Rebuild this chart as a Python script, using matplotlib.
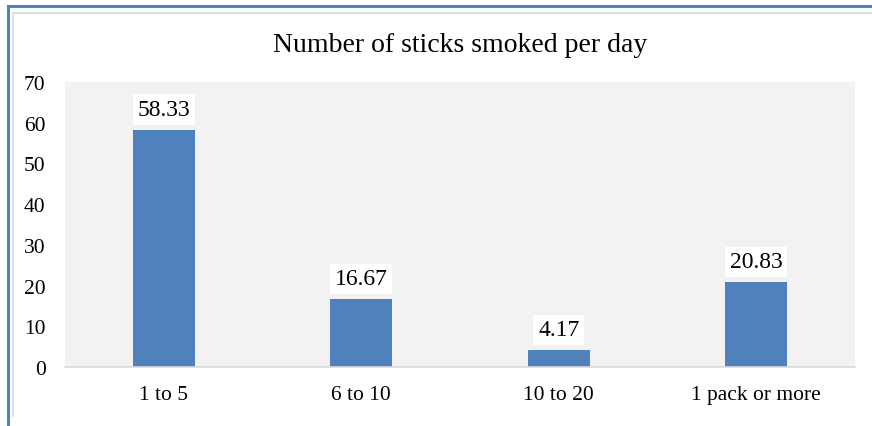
import matplotlib.pyplot as plt
from matplotlib.lines import Line2D

categories = ["1 to 5", "6 to 10", "10 to 20", "1 pack or more"]
values = [58.33, 16.67, 4.17, 20.83]
labels = ["58.33", "16.67", "4.17", "20.83"]
yticks = [0, 10, 20, 30, 40, 50, 60, 70]
title = "Number of sticks smoked per day"

plt.rcParams["font.family"] = ["Liberation Serif", "DejaVu Serif"]

W, H = 872, 427
fig = plt.figure(figsize=(W / 100, H / 100), dpi=100)
fig.patch.set_facecolor("white")

# outer blue frame (left + top) and inner gray frame
fig.add_artist(Line2D([7.5 / W, 7.5 / W], [0, 1 - 6.5 / H], color="#4F81BD", lw=2.2, transform=fig.transFigure))
fig.add_artist(Line2D([7.5 / W, 1], [1 - 6.5 / H, 1 - 6.5 / H], color="#4F81BD", lw=2.2, transform=fig.transFigure))
fig.add_artist(Line2D([12.5 / W, 12.5 / W], [1 - 417 / H, 1 - 14 / H], color="#D9D9D9", lw=1.2, transform=fig.transFigure))
fig.add_artist(Line2D([12.5 / W, 1], [1 - 14 / H, 1 - 14 / H], color="#D9D9D9", lw=1.2, transform=fig.transFigure))

left, right, top, bottom = 65, 855, 83, 368
ax = fig.add_axes([left / W, 1 - bottom / H, (right - left) / W, (bottom - top) / H])
ax.set_facecolor("#F2F2F2")

x = list(range(len(categories)))
bars = ax.bar(x, values, width=0.314, color="#4F81BD", zorder=2)

ax.set_xlim(-0.5, len(categories) - 0.5)
ax.set_ylim(0, 70)
ax.set_yticks(yticks)
ax.set_xticks(x)
ax.set_xticklabels(categories, fontsize=15.5)
ax.tick_params(axis="y", length=0, pad=14, labelsize=15.5)
ax.tick_params(axis="x", length=0, pad=13)

for s in ["top", "right", "left"]:
    ax.spines[s].set_visible(False)
ax.spines["bottom"].set_color("#D9D9D9")
ax.spines["bottom"].set_linewidth(1.2)

for rect, lab in zip(bars, labels):
    ax.annotate(lab, (rect.get_x() + rect.get_width() / 2, rect.get_height()),
                xytext=(0, 7), textcoords="offset points", ha="center", va="bottom",
                fontsize=17, zorder=3,
                bbox=dict(boxstyle="square,pad=0.2", fc="white", ec="none"))

fig.text((left + right) / 2 / W, 1 - 45 / H, title, ha="center", va="center", fontsize=20)

fig.savefig("out.png", dpi=100)
